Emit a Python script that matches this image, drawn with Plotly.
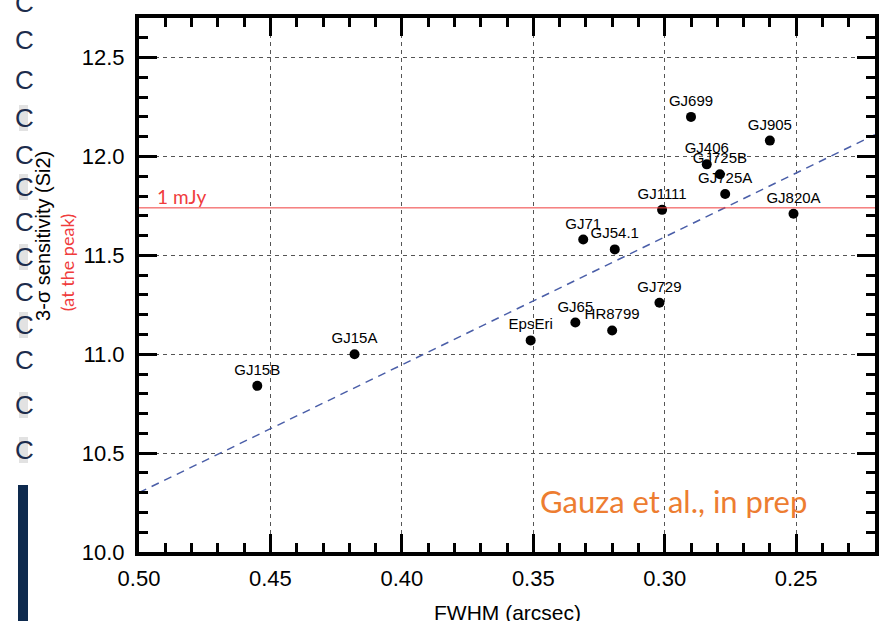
import plotly.graph_objects as go

# Targets: FWHM (arcsec) and 3-sigma peak sensitivity in Si2 (mag)
names = ["GJ15B", "GJ15A", "EpsEri", "GJ65", "HR8799", "GJ729", "GJ71", "GJ54.1",
         "GJ1111", "GJ699", "GJ905", "GJ406", "GJ725B", "GJ725A", "GJ820A"]
fwhm = [0.455, 0.418, 0.351, 0.334, 0.320, 0.302, 0.331, 0.319,
        0.301, 0.290, 0.260, 0.284, 0.279, 0.277, 0.251]
sens = [10.84, 11.00, 11.07, 11.16, 11.12, 11.26, 11.58, 11.53,
        11.73, 12.20, 12.08, 11.96, 11.91, 11.81, 11.71]

# Trend line end points
trend_x = [0.50, 0.22]
trend_y = [10.30, 12.11]

# 1 mJy level
mjy_level = 11.74

x_ticks = [0.50, 0.45, 0.40, 0.35, 0.30, 0.25]
x_ticklabels = ["0.50", "0.45", "0.40", "0.35", "0.30", "0.25"]
y_ticks = [10.0, 10.5, 11.0, 11.5, 12.0, 12.5]
y_ticklabels = ["10.0", "10.5", "11.0", "11.5", "12.0", "12.5"]

RED = "#f03c3c"
ORANGE = "#ED7D31"
SANS = "Liberation Sans, Arial, sans-serif"
TICK_FONT = dict(family=SANS, size=22, color="black")

fig = go.Figure()

fig.add_trace(go.Scatter(
    x=trend_x, y=trend_y, mode="lines",
    line=dict(color="#4a5ea8", width=1.5, dash="8px,6px"),
    hoverinfo="skip", showlegend=False,
))

fig.add_trace(go.Scatter(
    x=fwhm, y=sens, mode="markers+text",
    text=names, textposition="top center",
    textfont=dict(family=SANS, size=15, color="black"),
    marker=dict(color="black", size=10),
    showlegend=False,
))

fig.add_hline(y=mjy_level, line=dict(color=RED, width=1))

axis_common = dict(
    showline=True, linecolor="black", linewidth=4, mirror="ticks",
    ticks="inside", ticklen=18, tickwidth=3, tickcolor="black",
    showgrid=True, gridcolor="#555555", gridwidth=1, griddash="4px,4px",
    zeroline=False, tickfont=TICK_FONT,
)

fig.update_xaxes(
    range=[0.50, 0.22], tickvals=x_ticks, ticktext=x_ticklabels,
    minor=dict(ticks="inside", ticklen=9, tickwidth=3, tickcolor="black", dtick=0.01,
               tick0=0.0, showgrid=False),
    ticklabelstandoff=4,
    **axis_common,
)
fig.update_yaxes(
    range=[10.0, 12.7], tickvals=y_ticks, ticktext=y_ticklabels,
    minor=dict(ticks="inside", ticklen=9, tickwidth=3, tickcolor="black", dtick=0.1,
               tick0=10.0, showgrid=False),
    ticklabelstandoff=6,
    **axis_common,
)

annotations = [
    dict(text="FWHM (arcsec)", xref="paper", yref="paper", x=0.5, y=-0.114,
         xanchor="center", yanchor="middle", showarrow=False,
         font=dict(family=SANS, size=21, color="black")),
    dict(text="3-σ sensitivity (Si2)", xref="paper", yref="paper", x=-0.1304, y=0.592,
         xanchor="center", yanchor="middle", textangle=-90, showarrow=False,
         font=dict(family=SANS, size=20, color="black")),
    dict(text="(at the peak)", xref="paper", yref="paper", x=-0.0978, y=0.541,
         xanchor="center", yanchor="middle", textangle=-90, showarrow=False,
         font=dict(family="Lato, sans-serif", size=18, color=RED)),
    dict(text="1 mJy", xref="paper", yref="paper", x=0.022, y=(552 - 196.5) / 534,
         xanchor="left", yanchor="middle", showarrow=False,
         font=dict(family="Lato, sans-serif", size=19, color=RED)),
    dict(text="Gauza et al., in prep", xref="paper", yref="paper", x=0.5420, y=0.095,
         xanchor="left", yanchor="middle", showarrow=False,
         font=dict(family="Lato, sans-serif", size=31, color=ORANGE)),
]

# Slide-edge fragments along the left border
shapes = []
strip_rows = [3, 40, 80, 118, 155, 187, 222, 257, 292, 325, 360, 405, 450]
gray_rows = [40, 118, 187, 257, 325, 405, 450]
for yc in gray_rows:
    shapes.append(dict(type="rect", xref="paper", yref="paper",
                       x0=(19 - 139) / 736, x1=(28 - 139) / 736,
                       y0=(552 - (yc + 13)) / 534, y1=(552 - (yc - 13)) / 534,
                       fillcolor="#e2e2e2", line=dict(width=0), layer="below"))
for yc in strip_rows:
    annotations.append(dict(text="C", xref="paper", yref="paper",
                            x=(13 - 139) / 736, y=(552 - yc) / 534,
                            xanchor="left", yanchor="middle", showarrow=False,
                            font=dict(family=SANS, size=26, color="#1c2c4c")))
shapes.append(dict(type="rect", xref="paper", yref="paper",
                   x0=(18 - 139) / 736, x1=(28 - 139) / 736,
                   y0=(552 - 621) / 534, y1=(552 - 485) / 534,
                   fillcolor="#0e2a4e", line=dict(width=0), layer="below"))

fig.update_layout(
    width=894, height=621,
    margin=dict(l=139, r=19, t=18, b=69),
    paper_bgcolor="white", plot_bgcolor="white",
    annotations=annotations, shapes=shapes,
    showlegend=False,
)

fig.write_html("out.html")
